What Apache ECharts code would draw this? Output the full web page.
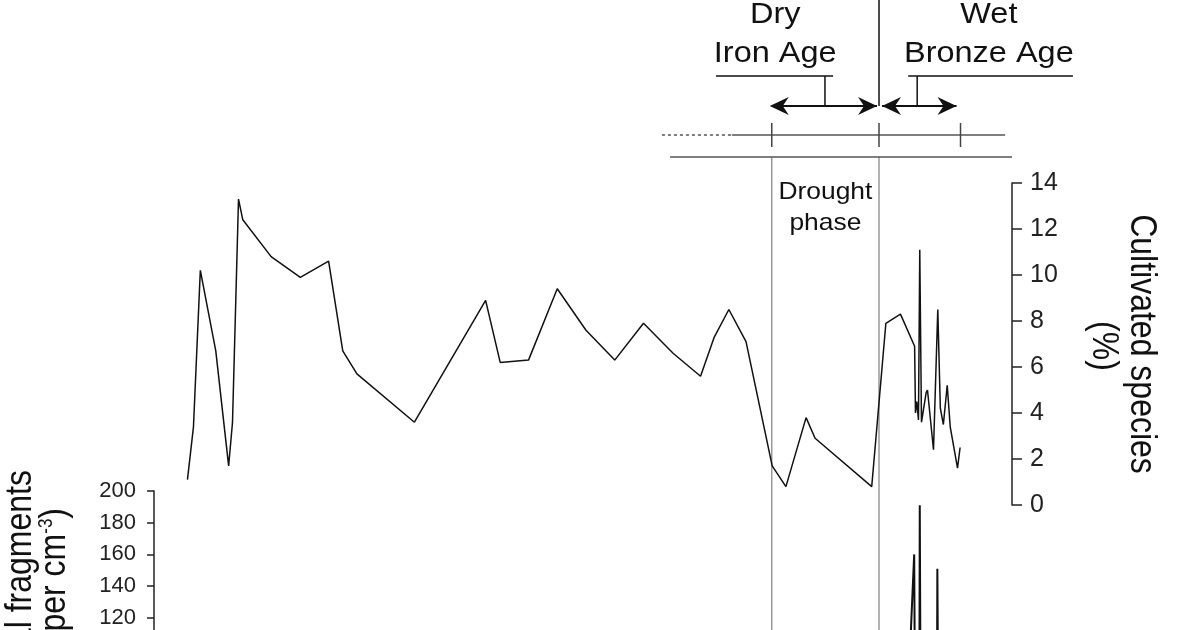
<!DOCTYPE html>
<html>
<head>
<meta charset="utf-8">
<script src="https://cdn.jsdelivr.net/npm/echarts@6/dist/echarts.min.js"></script>
<style>
html, body { margin: 0; padding: 0; background: #fff; }
#main { width: 1200px; height: 630px; }
</style>
</head>
<body>
<div id="main"></div>
<script>
"use strict";

// upper curve : age (cal yr BP) -> cultivated species (%)
var cultYears = [1188, 1202, 1218, 1254, 1284, 1293, 1307, 1317, 1383, 1451, 1517, 1550, 1583, 1717,
	1883, 1917, 1983, 2050, 2117, 2184, 2251, 2320, 2384, 2416, 2450, 2490, 2551, 2583, 2630, 2651,
	2783, 2816, 2850, 2883, 2885, 2888, 2892, 2895, 2899, 2910, 2913, 2927, 2937, 2943, 2950, 2959,
	2966, 2983, 2989];
var cultValues = [1.1, 3.4, 10.2, 6.7, 1.7, 3.6, 13.3, 12.4, 10.8, 9.9, 10.6, 6.7, 5.7, 3.6,
	8.9, 6.2, 6.3, 9.4, 7.6, 6.3, 7.9, 6.6, 5.6, 7.3, 8.5, 7.1, 1.7, 0.8, 3.8, 2.9,
	0.8, 7.9, 8.3, 6.9, 4.0, 4.5, 3.7, 11.1, 3.6, 4.9, 5.0, 2.4, 8.5, 4.2, 3.5, 5.2,
	3.4, 1.6, 2.5];

// lower curve : charcoal fragments per cm3 (only the spikes reach the visible part)
var charYears = [2866, 2882, 2884, 2894, 2895, 2897, 2935, 2936, 2938];
var charValues = [60, 160, 60, 60, 191, 60, 60, 151, 60];

// time markers (cal yr BP)
var droughtStart = 2550;
var droughtEnd = 2800;
var wetEnd = 2990;

var font = '"Liberation Sans", Arial, sans-serif';
var ink = '#111';

function zip(xs, ys) {
	var out = [];
	for (var i = 0; i < xs.length; i++) {
		out.push([xs[i], ys[i]]);
	}
	return out;
}

var myChart = echarts.init(document.getElementById('main'));

var option = {
	animation: false,
	backgroundColor: '#fff',
	grid: [
		{ left: 154, right: 188, top: 183, height: 322, outerBoundsMode: 'none', containLabel: false },
		{ left: 154, right: 188, top: 491, height: 317, outerBoundsMode: 'none', containLabel: false }
	],
	xAxis: [
		{ gridIndex: 0, type: 'value', min: 1110, max: 3110, show: false },
		{ gridIndex: 1, type: 'value', min: 1110, max: 3110, show: false }
	],
	yAxis: [{
		gridIndex: 0,
		type: 'value',
		position: 'right',
		min: 0,
		max: 14,
		interval: 2,
		axisLine: { show: true, lineStyle: { color: '#222', width: 1.5 } },
		axisTick: { show: true, length: 10, lineStyle: { color: '#222', width: 1.5 } },
		axisLabel: { color: '#222', fontSize: 25, fontFamily: font, margin: 18 },
		splitLine: { show: false }
	}, {
		gridIndex: 1,
		type: 'value',
		position: 'left',
		min: 0,
		max: 200,
		interval: 20,
		axisLine: { show: true, lineStyle: { color: '#222', width: 1.5 } },
		axisTick: { show: true, length: 7, lineStyle: { color: '#222', width: 1.5 } },
		axisLabel: { color: '#222', fontSize: 22, fontFamily: font, margin: 18 },
		splitLine: { show: false }
	}],
	series: [{
		name: 'Cultivated species',
		type: 'line',
		xAxisIndex: 0,
		yAxisIndex: 0,
		data: zip(cultYears, cultValues),
		showSymbol: false,
		symbol: 'none',
		lineStyle: { color: ink, width: 1.5 }
	}, {
		name: 'Charcoal fragments',
		type: 'line',
		xAxisIndex: 1,
		yAxisIndex: 1,
		data: zip(charYears, charValues),
		showSymbol: false,
		symbol: 'none',
		lineStyle: { color: ink, width: 2 }
	}]
};

myChart.setOption(option);

// annotations placed through the age axis
function xp(yr) {
	return myChart.convertToPixel({ xAxisIndex: 0 }, yr);
}

function line(x1, y1, x2, y2, color, width, dash) {
	return {
		type: 'line',
		silent: true,
		shape: { x1: x1, y1: y1, x2: x2, y2: y2 },
		style: { stroke: color, lineWidth: width, lineDash: dash || null }
	};
}

function head(x, y, dir) {
	return {
		type: 'polygon',
		silent: true,
		shape: { points: [[x, y], [x - dir * 19, y - 9], [x - dir * 13, y], [x - dir * 19, y + 9]] },
		style: { fill: ink }
	};
}

function label(txt, x, y, size, rot, sx, sy, align) {
	return {
		type: 'text',
		silent: true,
		x: x,
		y: y,
		rotation: rot || 0,
		scaleX: sx || 1,
		scaleY: sy || 1,
		style: {
			text: txt,
			x: 0,
			y: 0,
			fill: ink,
			fontSize: size,
			fontFamily: font,
			align: align || 'center',
			verticalAlign: 'middle'
		}
	};
}

var g = [];
var xa = xp(droughtStart), xb = xp(droughtEnd), xc = xp(wetEnd);

// drought phase guides
g.push(line(xa, 157, xa, 640, '#9a9a9a', 1.5));
g.push(line(xb, 157, xb, 640, '#9a9a9a', 1.5));
g.push(label('Drought', (xa + xb) / 2, 192, 24, 0, 1.1, 1));
g.push(label('phase', (xa + xb) / 2, 223, 24, 0, 1.1, 1));

// separator and timeline
g.push(line(xp(2313), 157, xp(3110), 157, '#555', 1.5));
g.push(line(xp(2294), 135, xp(2457), 135, '#555', 1.5, [3, 3]));
g.push(line(xp(2457), 135, xp(3094), 135, '#555', 1.5));
[droughtStart, droughtEnd, wetEnd].forEach(function (yr) {
	g.push(line(xp(yr), 123, xp(yr), 147, '#444', 1.5));
});

// period boundary and arrows
g.push(line(xb, 0, xb, 106, ink, 1.5));
g.push(line(xa, 106, xb - 2, 106, ink, 2));
g.push(head(xa - 2, 106, -1));
g.push(head(xb - 2, 106, 1));
g.push(line(xb + 3, 106, xc - 4, 106, ink, 2));
g.push(head(xb + 3, 106, -1));
g.push(head(xc - 4, 106, 1));

// Dry / Wet headings
g.push(line(xp(2420), 76, xp(2693), 76, ink, 1.5));
g.push(line(xp(2674), 76, xp(2674), 106, ink, 1.5));
g.push(line(xp(2868), 76, xp(3252), 76, ink, 1.5));
g.push(line(xp(2889), 76, xp(2889), 106, ink, 1.5));
g.push(label('Dry', xp(2558), 15, 29, 0, 1.12, 1));
g.push(label('Iron Age', xp(2558), 54, 29, 0, 1.12, 1));
g.push(label('Wet', xp(3056), 15, 29, 0, 1.12, 1));
g.push(label('Bronze Age', xp(3056), 54, 29, 0, 1.12, 1));

// axis titles
g.push(label('Cultivated species', 1141, 344, 32, -Math.PI / 2, 1, 1.15));
g.push(label('(%)', 1103, 346, 32, -Math.PI / 2, 1, 1.15));
g.push(label('Charcoal fragments', 21, 470, 32, Math.PI / 2, 1, 1.15, 'right'));
g.push({
	type: 'text',
	silent: true,
	x: 55,
	y: 508,
	rotation: Math.PI / 2,
	scaleY: 1.15,
	style: {
		text: '(per cm{sup|-3})',
		x: 0,
		y: 0,
		fill: ink,
		fontSize: 32,
		fontFamily: font,
		align: 'right',
		verticalAlign: 'middle',
		rich: {
			sup: { fontSize: 17, fontFamily: font, fill: ink, padding: [0, 0, 14, 0] }
		}
	}
});

myChart.setOption({ graphic: g });
</script>
</body>
</html>
